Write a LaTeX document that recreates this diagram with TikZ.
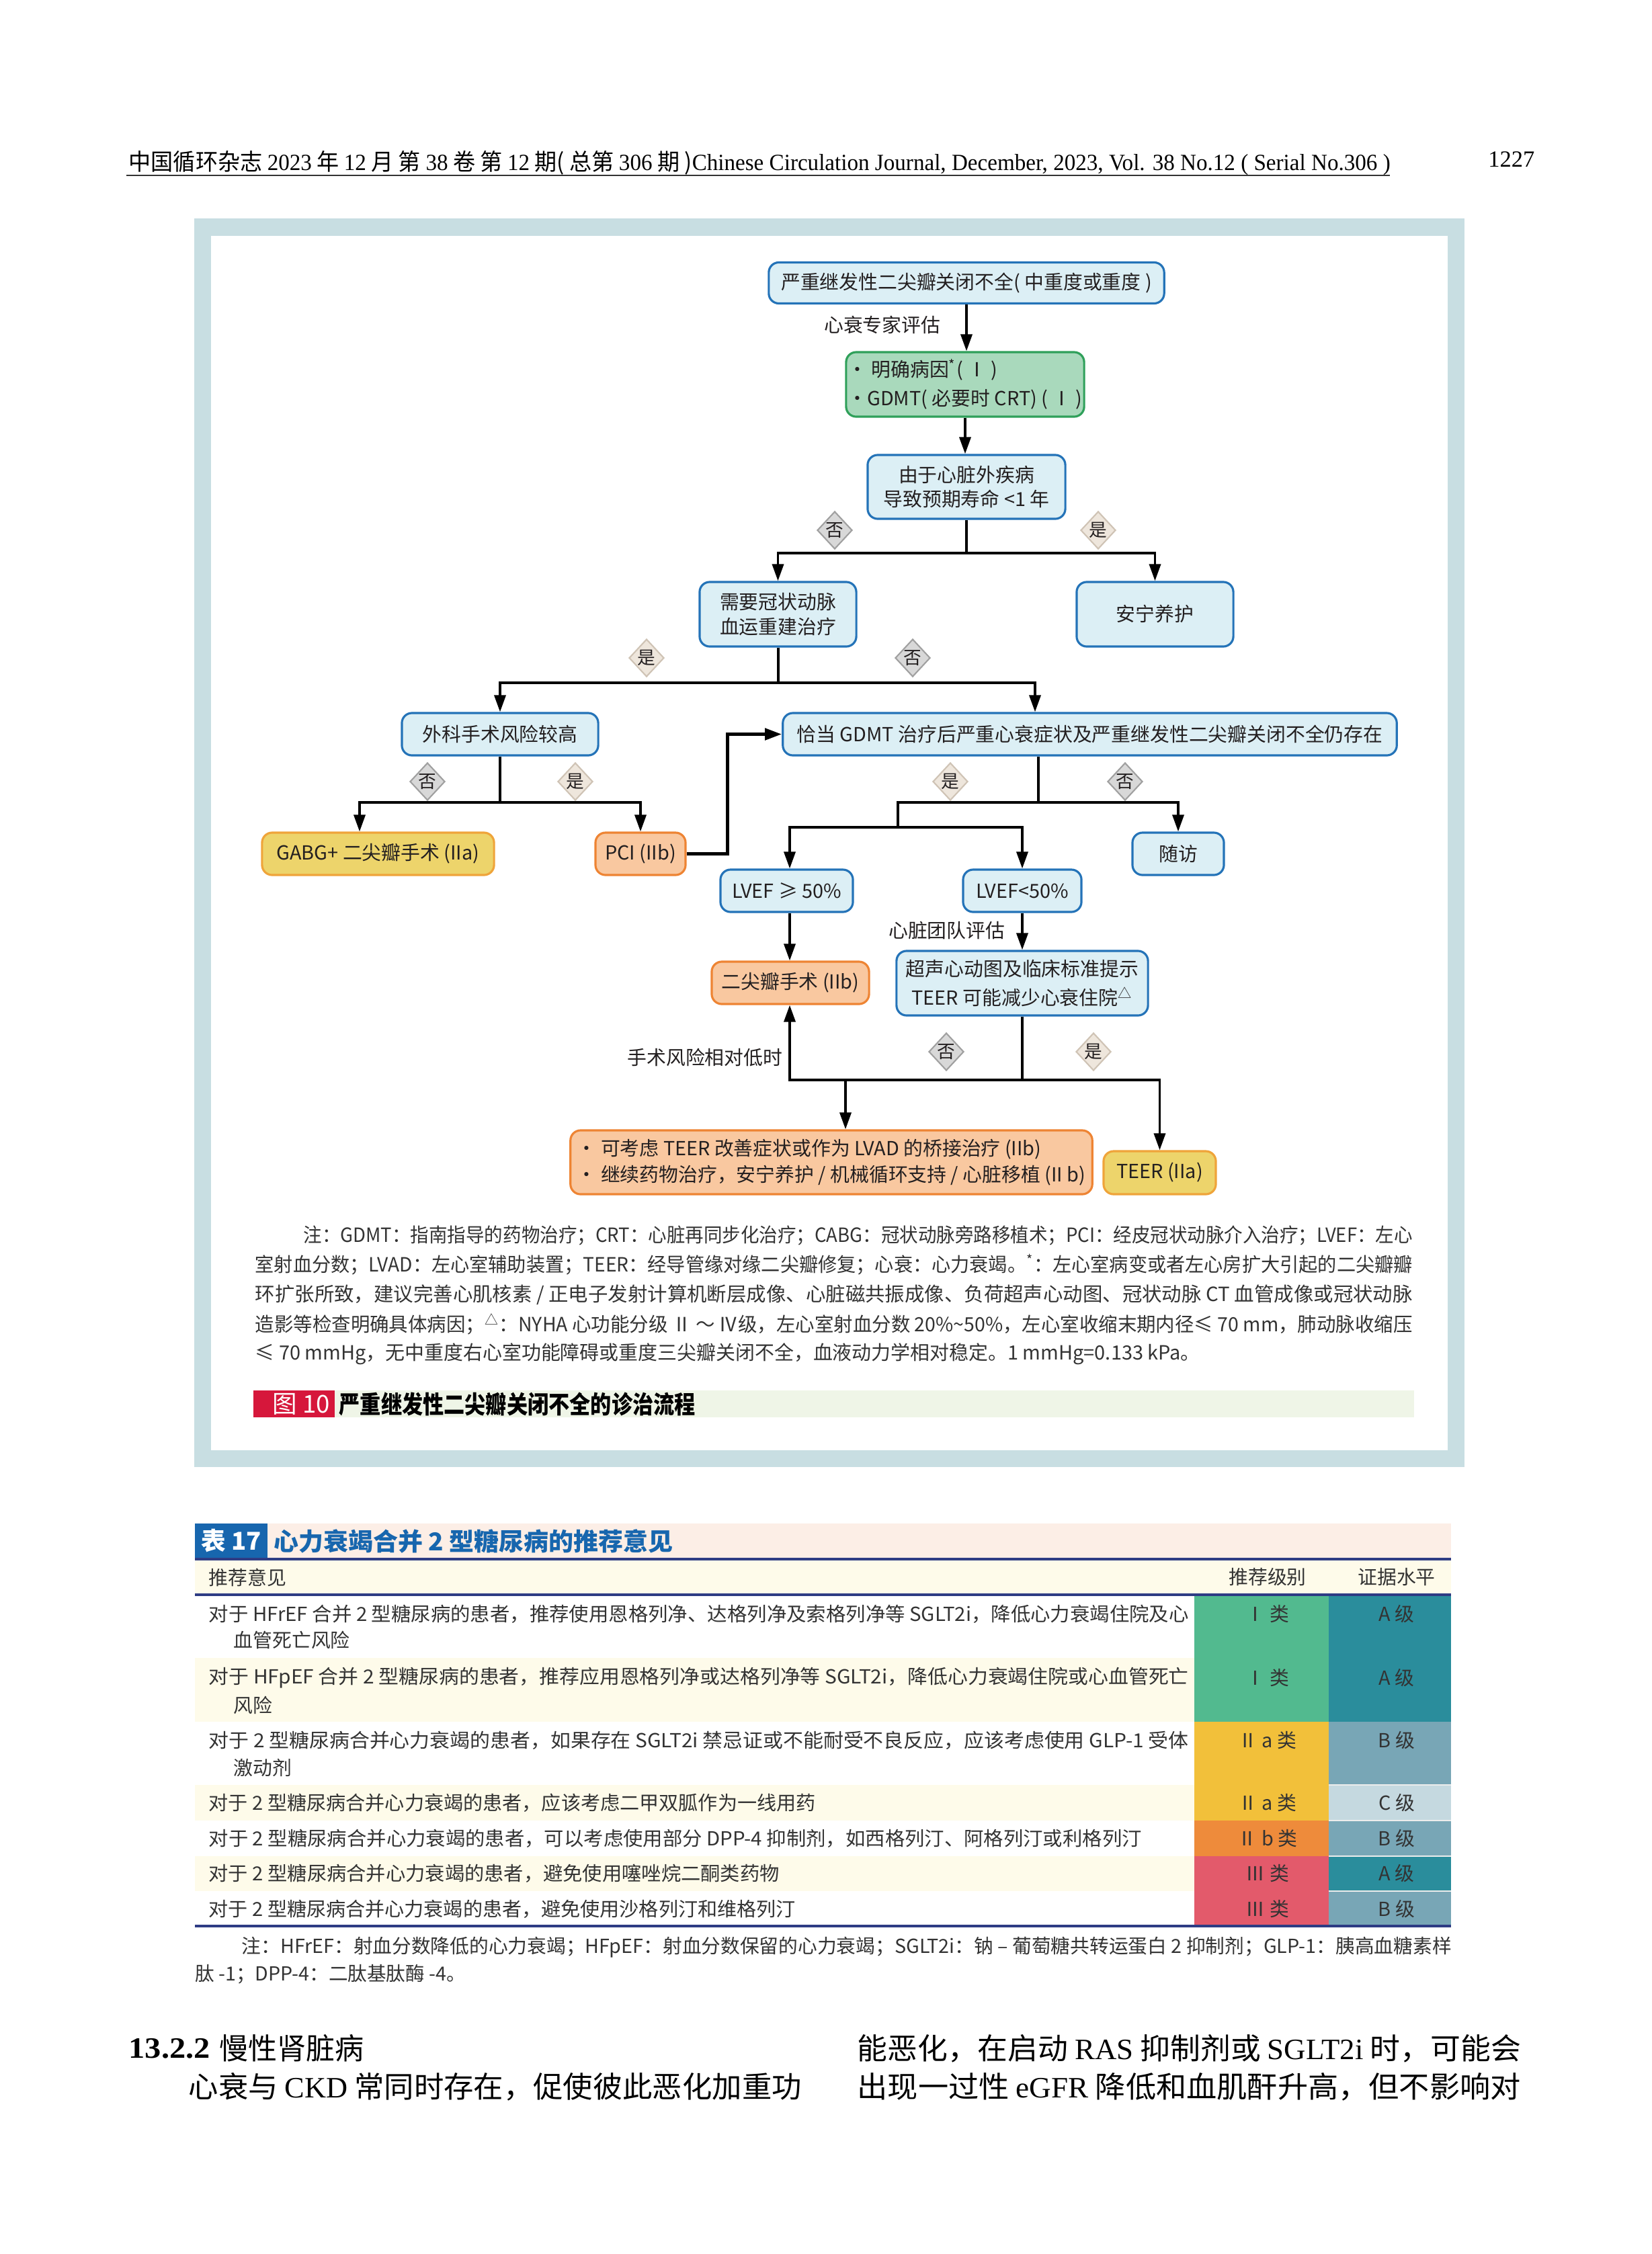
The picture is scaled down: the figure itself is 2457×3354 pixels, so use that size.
\documentclass[tikz,border=0pt]{standalone}
\usepackage{fontspec}
\usepackage{graphicx}
\setmainfont{Noto Sans CJK SC}
\newfontfamily\lserif{Liberation Serif}
\usetikzlibrary{shapes.geometric,arrows.meta}
\newdimen\pxu \pxu=0.01cm
\newcommand\fitw[2]{\resizebox{#1\pxu}{\height}{#2}}
\newcommand\fF{\fontsize{8.2pt}{10.3pt}\selectfont}
\newcommand\fFb{\fontsize{8.2pt}{12.2pt}\selectfont}
\newcommand\fFc{\fontsize{8.2pt}{11.2pt}\selectfont}
\newcommand\fD{\fontsize{7.6pt}{8pt}\selectfont}
\newcommand\fN{\fontsize{8.3pt}{10pt}\selectfont}
\newcommand\fT{\fontsize{8.2pt}{10pt}\selectfont}
\newcommand\fH{\fontsize{9.8pt}{11pt}\selectfont}
\newcommand\fB{\fontsize{12.5pt}{14pt}\selectfont}
\newcommand\fTT{\fontsize{10.4pt}{12pt}\selectfont}
\definecolor{frameC}{HTML}{C8DEE2}
\definecolor{nblue}{HTML}{2473B8}
\definecolor{nfill}{HTML}{DCEFF5}
\definecolor{ngreen}{HTML}{2FA05A}
\definecolor{gfill}{HTML}{A9D9BC}
\definecolor{norange}{HTML}{EE8433}
\definecolor{ofill}{HTML}{F9C8A0}
\definecolor{nyellowb}{HTML}{EFA43A}
\definecolor{yfill}{HTML}{EDD46B}
\definecolor{yesb}{HTML}{CFC3B5}
\definecolor{yesf}{HTML}{EEE6DC}
\definecolor{nob}{HTML}{A0A0A0}
\definecolor{nof}{HTML}{D8D8D8}
\definecolor{txt}{HTML}{231F20}
\definecolor{gtxt}{HTML}{333333}
\definecolor{capred}{HTML}{D6173B}
\definecolor{capbar}{HTML}{EFF5E7}
\definecolor{tpink}{HTML}{FCEEE6}
\definecolor{tblue}{HTML}{1766AE}
\definecolor{navy}{HTML}{2E3C84}
\definecolor{rowy}{HTML}{FEFBEA}
\definecolor{cgreen}{HTML}{52BA8F}
\definecolor{cteal}{HTML}{2A8D9C}
\definecolor{cyellow}{HTML}{F2C03A}
\definecolor{cbb}{HTML}{78A6B6}
\definecolor{cc}{HTML}{C5D9E0}
\definecolor{corange}{HTML}{EE8B3B}
\definecolor{cred}{HTML}{E35A6B}
\tikzset{
 box/.style={draw=nblue, fill=nfill, line width=0.9pt, rounded corners=0.15cm, inner sep=0pt, align=center, font=\fF, text=txt},
 greenbox/.style={box, draw=ngreen, fill=gfill},
 orangebox/.style={box, draw=norange, fill=ofill},
 yellowbox/.style={box, draw=nyellowb, fill=yfill},
 yesd/.style={diamond, draw=yesb, fill=yesf, line width=0.6pt, minimum width=0.52cm, minimum height=0.56cm, inner sep=0pt, font=\fD, text=txt},
 nod/.style={yesd, draw=nob, fill=nof},
 conn/.style={line width=1pt, black},
 arr/.style={conn, -{Triangle[length=2.5mm,width=1.7mm]}},
 lbl/.style={inner sep=0pt, font=\fF, text=txt},
 notel/.style={inner sep=0pt, anchor=west, font=\fN, text=gtxt},
 tabl/.style={inner sep=0pt, anchor=west, font=\fT, text=gtxt},
 cell/.style={inner sep=0pt, font=\fT, text=gtxt},
 bodyl/.style={inner sep=0pt, anchor=west, font=\fB, text=black},
}
\begin{document}
\begin{tikzpicture}[x=0.01cm,y=-0.01cm]
\fill[white] (0,0) rectangle (2457,3354);
\useasboundingbox (0,0) rectangle (2457,3354);
% header
\node[inner sep=0pt, anchor=west, font=\fH, text=black] (hdr) at (191,243) {\fitw{1877}{中国循环杂志 {\lserif 2023} 年 {\lserif 12} 月 第 {\lserif 38} 卷 第 {\lserif 12} 期( 总第 {\lserif 306} 期 ){\lserif Chinese Circulation Journal, December, 2023, Vol. 38 No.12 ( Serial No.306 )}}};
\draw[line width=0.8pt, black!80] (188,261) -- (2068,261);
\node[inner sep=0pt, anchor=east, font=\lserif\fH] (pg) at (2284,237) {1227};
% frame
\fill[frameC] (289,325) rectangle (2179,2183);
\fill[white] (314,351) rectangle (2154,2158);
% flowchart nodes
\node[box, minimum width=5.88cm, minimum height=0.61cm] (n1) at (1438,421) {严重继发性二尖瓣关闭不全( 中重度或重度 )};
\node[greenbox, minimum width=3.54cm, minimum height=0.96cm, align=left, font=\fFb] (n2) at (1436,572) {• 明确病因\textsuperscript{*}( Ⅰ )\\•GDMT( 必要时 CRT) ( Ⅰ )};
\node[box, minimum width=2.94cm, minimum height=0.95cm] (n3) at (1438,724.5) {由于心脏外疾病\\导致预期寿命 <1 年};
\node[box, minimum width=2.33cm, minimum height=0.96cm] (n4) at (1157.5,914) {需要冠状动脉\\血运重建治疗};
\node[box, minimum width=2.33cm, minimum height=0.96cm] (n5) at (1718.5,914) {安宁养护};
\node[box, minimum width=2.92cm, minimum height=0.63cm] (n6) at (744,1092.5) {外科手术风险较高};
\node[box, minimum width=9.13cm, minimum height=0.63cm] (n7) at (1621.5,1092.5) {恰当 GDMT 治疗后严重心衰症状及严重继发性二尖瓣关闭不全仍存在};
\node[yellowbox, minimum width=3.45cm, minimum height=0.63cm] (n8) at (562.5,1270.5) {GABG+ 二尖瓣手术 (IIa)};
\node[orangebox, minimum width=1.34cm, minimum height=0.63cm] (n9) at (953,1270.5) {PCI (IIb)};
\node[box, minimum width=1.36cm, minimum height=0.63cm] (n10) at (1753,1270.5) {随访};
\node[box, minimum width=1.97cm, minimum height=0.63cm] (n11) at (1170.5,1325.5) {LVEF ≥ 50\%};
\node[box, minimum width=1.76cm, minimum height=0.63cm] (n12) at (1521,1325.5) {LVEF<50\%};
\node[orangebox, minimum width=2.34cm, minimum height=0.63cm] (n13) at (1176,1462.5) {二尖瓣手术 (IIb)};
\node[box, minimum width=3.74cm, minimum height=0.96cm, font=\fFb] (n14) at (1521,1463) {超声心动图及临床标准提示\\TEER 可能减少心衰住院\textsuperscript{△}};
\node[orangebox, minimum width=7.76cm, minimum height=0.95cm, align=left, font=\fFc] (n15) at (1237,1729.5) {• 可考虑 TEER 改善症状或作为 LVAD 的桥接治疗 (IIb)\\• 继续药物治疗，安宁养护 / 机械循环支持 / 心脏移植 (II b)};
\node[yellowbox, minimum width=1.67cm, minimum height=0.64cm] (n16) at (1725.5,1745) {TEER (IIa)};
% diamonds
\node[nod] (d1) at (1242,789) {否};
\node[yesd] (d2) at (1634,789) {是};
\node[yesd] (d3) at (962,979) {是};
\node[nod] (d4) at (1358,979) {否};
\node[nod] (d5) at (636,1163) {否};
\node[yesd] (d6) at (856,1163) {是};
\node[yesd] (d7) at (1414,1163) {是};
\node[nod] (d8) at (1674,1163) {否};
\node[nod] (d9) at (1408,1565) {否};
\node[yesd] (d10) at (1627,1565) {是};
% labels
\node[lbl, anchor=east] (l1) at (1400,483) {心衰专家评估};
\node[lbl, anchor=east] (l2) at (1496,1385) {心脏团队评估};
\node[lbl, anchor=east] (l3) at (1165,1573) {手术风险相对低时};
% coordinates
\coordinate (j1) at (1438,823);
\coordinate (j2) at (1158,1016);
\coordinate (c7) at (1540,0);
\coordinate (j3) at (744,1194);
\coordinate (c8) at (535,0);
\coordinate (c7b) at (1545,0);
\coordinate (j4) at (1545,1194);
\coordinate (j5) at (1336,1231);
\coordinate (c11) at (1175,0);
\coordinate (j6) at (1521,1607);
\coordinate (j7) at (1258,1607);
% connectors
\draw[arr] (n1.south) -- (n1.south |- n2.north);
\draw[arr] (n2.south) -- (n2.south |- n3.north);
\draw[conn] (n3.south) -- (j1);
\draw[arr] (j1) -| (n4.north);
\draw[arr] (j1) -| (n5.north);
\draw[conn] (n4.south -| j2) -- (j2);
\draw[arr] (j2) -| (n6.north);
\draw[arr] (j2) -| (n7.north -| c7);
\draw[conn] (n6.south) -- (j3);
\draw[arr] (j3) -| (n8.north -| c8);
\draw[arr] (j3) -| (n9.north);
\draw[arr, line width=1.4pt] (n9.east) -- ++(61,0) |- (n7.west);
\draw[conn] (n7.south -| c7b) -- (j4);
\draw[arr] (j4) -| (n10.north);
\draw[conn] (j4) -| (j5);
\draw[arr] (j5) -| (n11.north -| c11);
\draw[arr] (j5) -| (n12.north);
\draw[arr] (n11.south -| c11) -- (n13.north -| c11);
\draw[arr] (n12.south) -- (n14.north);
\draw[conn] (n14.south) -- (j6);
\draw[arr] (j6) -| (n13.south -| c11);
\draw[arr] (j6) -| (n16.north);
\draw[arr] (j7) -- (n15.north -| j7);
% figure note
\node[notel] (fn1) at (451,1838) {\fitw{1650}{注：GDMT：指南指导的药物治疗；CRT：心脏再同步化治疗；CABG：冠状动脉旁路移植术；PCI：经皮冠状动脉介入治疗；LVEF：左心}};
\node[notel] (fn2) at (379,1882) {\fitw{1722}{室射血分数；LVAD：左心室辅助装置；TEER：经导管缘对缘二尖瓣修复；心衰：心力衰竭。\textsuperscript{*}：左心室病变或者左心房扩大引起的二尖瓣瓣}};
\node[notel] (fn3) at (379,1927) {\fitw{1722}{环扩张所致，建议完善心肌核素 / 正电子发射计算机断层成像、心脏磁共振成像、负荷超声心动图、冠状动脉 CT 血管成像或冠状动脉}};
\node[notel] (fn4) at (379,1970) {\fitw{1722}{造影等检查明确具体病因；\textsuperscript{△}：NYHA 心功能分级 Ⅱ ～ Ⅳ级，左心室射血分数 20\%\textasciitilde 50\%，左心室收缩末期内径≤ 70 mm，肺动脉收缩压}};
\node[notel] (fn5) at (379,2015) {\fitw{1406}{≤ 70 mmHg，无中重度右心室功能障碍或重度三尖瓣关闭不全，血液动力学相对稳定。1 mmHg=0.133 kPa。}};
% caption
\fill[capbar] (377,2069) rectangle (2104,2109);
\fill[capred] (377,2069) rectangle (498,2109);
\node[inner sep=0pt, font=\fTT, text=white] (cap1) at (448,2089) {图 10};
\node[inner sep=0pt, anchor=west, font=\fTT\bfseries, text=black] (cap2) at (504,2089) {\fitw{530}{严重继发性二尖瓣关闭不全的诊治流程}};
% table 17
\fill[tpink] (290,2267) rectangle (2159,2319);
\fill[tblue] (290,2267) rectangle (398,2319);
\node[inner sep=0pt, font=\fTT\bfseries, text=white] (tt1) at (344,2293) {表 17};
\node[inner sep=0pt, anchor=west, font=\fTT\bfseries, text=tblue] (tt2) at (407,2293) {\fitw{594}{心力衰竭合并 2 型糖尿病的推荐意见}};
\fill[rowy] (290,2321) rectangle (2159,2372);
\draw[navy, line width=1.3pt] (290,2320) -- (2159,2320);
\node[tabl] (th1) at (310,2347) {推荐意见};
\node[cell] (th2) at (1886,2347) {推荐级别};
\node[cell] (th3) at (2078,2347) {证据水平};
% rows backgrounds
\fill[rowy] (290,2467) rectangle (1777,2562);
\fill[rowy] (290,2656) rectangle (1777,2709);
\fill[rowy] (290,2762) rectangle (1777,2814);
\fill[cgreen] (1777,2373) rectangle (1977,2562);
\fill[cteal] (1977,2373) rectangle (2159,2562);
\fill[cyellow] (1777,2562) rectangle (1977,2709);
\fill[cbb] (1977,2562) rectangle (2159,2656);
\fill[cc] (1977,2656) rectangle (2159,2709);
\fill[corange] (1777,2709) rectangle (1977,2762);
\fill[cbb] (1977,2709) rectangle (2159,2762);
\fill[cred] (1777,2762) rectangle (1977,2866);
\fill[cteal] (1977,2762) rectangle (2159,2814);
\fill[cbb] (1977,2814) rectangle (2159,2866);
\draw[white!85!gray, line width=0.4pt] (1977,2656) -- (2159,2656) (1977,2709) -- (2159,2709) (1977,2762) -- (2159,2762) (1977,2814) -- (2159,2814);
\draw[navy, line width=0.9pt] (290,2373) -- (2159,2373);
\draw[navy, line width=1.3pt] (290,2866) -- (2159,2866);
% rows text
\node[tabl] (r1a) at (310,2402) {\fitw{1458}{对于 HFrEF 合并 2 型糖尿病的患者，推荐使用恩格列净、达格列净及索格列净等 SGLT2i，降低心力衰竭住院及心}};
\node[tabl] (r1b) at (347,2440) {血管死亡风险};
\node[tabl] (r2a) at (310,2497) {\fitw{1458}{对于 HFpEF 合并 2 型糖尿病的患者，推荐应用恩格列净或达格列净等 SGLT2i，降低心力衰竭住院或心血管死亡}};
\node[tabl] (r2b) at (347,2537) {风险};
\node[tabl] (r3a) at (310,2590) {\fitw{1458}{对于 2 型糖尿病合并心力衰竭的患者，如果存在 SGLT2i 禁忌证或不能耐受不良反应，应该考虑使用 GLP-1 受体}};
\node[tabl] (r3b) at (347,2630) {激动剂};
\node[tabl] (r4a) at (310,2683) {\fitw{903}{对于 2 型糖尿病合并心力衰竭的患者，应该考虑二甲双胍作为一线用药}};
\node[tabl] (r5a) at (310,2736) {\fitw{1388}{对于 2 型糖尿病合并心力衰竭的患者，可以考虑使用部分 DPP-4 抑制剂，如西格列汀、阿格列汀或利格列汀}};
\node[tabl] (r6a) at (310,2788) {\fitw{849}{对于 2 型糖尿病合并心力衰竭的患者，避免使用噻唑烷二酮类药物}};
\node[tabl] (r7a) at (310,2841) {\fitw{873}{对于 2 型糖尿病合并心力衰竭的患者，避免使用沙格列汀和维格列汀}};
\node[cell] (k1) at (1886,2402) {Ⅰ 类};
\node[cell] (k2) at (1886,2497) {Ⅰ 类};
\node[cell] (k3) at (1886,2590) {Ⅱ a 类};
\node[cell] (k4) at (1886,2683) {Ⅱ a 类};
\node[cell] (k5) at (1886,2736) {Ⅱ b 类};
\node[cell] (k6) at (1886,2788) {Ⅲ 类};
\node[cell] (k7) at (1886,2841) {Ⅲ 类};
\node[cell] (e1) at (2078,2402) {A 级};
\node[cell] (e2) at (2078,2497) {A 级};
\node[cell] (e3) at (2078,2590) {B 级};
\node[cell] (e4) at (2078,2683) {C 级};
\node[cell] (e5) at (2078,2736) {B 级};
\node[cell] (e6) at (2078,2788) {A 级};
\node[cell] (e7) at (2078,2841) {B 级};
% table note
\node[tabl] (tn1) at (359,2898) {\fitw{1800}{注：HFrEF：射血分数降低的心力衰竭；HFpEF：射血分数保留的心力衰竭；SGLT2i：钠 – 葡萄糖共转运蛋白 2 抑制剂；GLP-1：胰高血糖素样}};
\node[tabl] (tn2) at (290,2938) {\fitw{402}{肽 -1；DPP-4：二肽基肽酶 -4。}};
% body text
\node[bodyl] (b1) at (191,3048) {\fitw{121}{\lserif\bfseries 13.2.2}};
\node[bodyl] (b2) at (326,3048) {\fitw{215}{慢性肾脏病}};
\node[bodyl] (b3) at (280,3105) {\fitw{912}{心衰与 {\lserif CKD} 常同时存在，促使彼此恶化加重功}};
\node[bodyl] (b4) at (1275,3048) {\fitw{987}{能恶化，在启动 {\lserif RAS} 抑制剂或 {\lserif SGLT2i} 时，可能会}};
\node[bodyl] (b5) at (1275,3105) {\fitw{987}{出现一过性 {\lserif eGFR} 降低和血肌酐升高，但不影响对}};
\end{tikzpicture}
\end{document}
